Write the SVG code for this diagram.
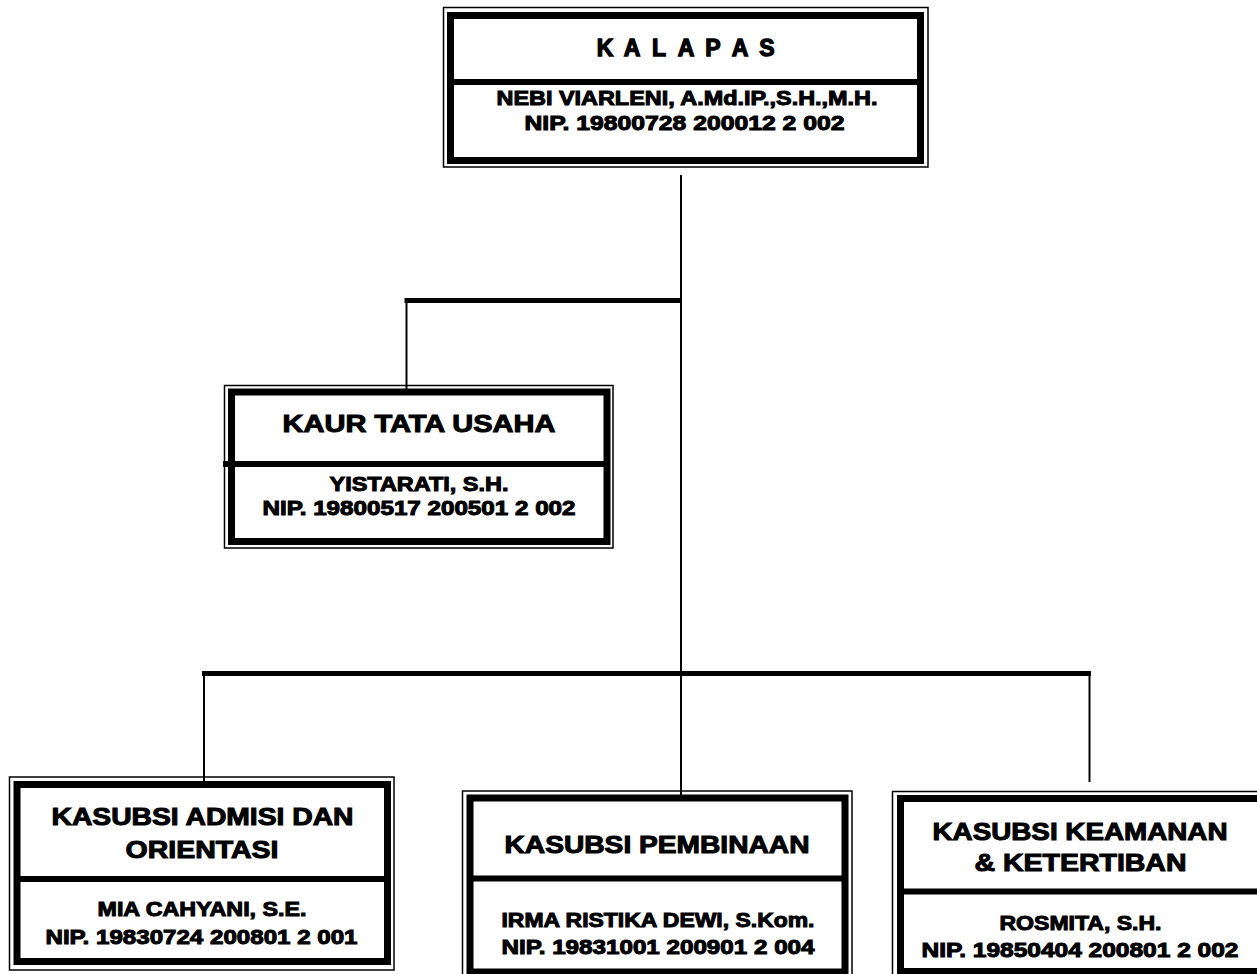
<svg xmlns="http://www.w3.org/2000/svg" width="1257" height="974" viewBox="0 0 1257 974">
  <style>
    .bg { fill: #ffffff; }
    .outer { fill: none; stroke: #000; stroke-width: 1.5; }
    .frame { fill: none; stroke: #000; stroke-width: 7; }
    .div { stroke: #000; stroke-width: 6; }
    .thin { stroke: #000; stroke-width: 2; fill: none; }
    .bar { stroke: #000; stroke-width: 5; fill: none; }
    text { font-family: "Liberation Sans", Arial, sans-serif; font-weight: bold; fill: #000; stroke: #000; stroke-width: 1; text-anchor: middle; }
    .title { font-size: 24px; }
    .name { font-size: 20px; }
    .spaced { font-size: 23px; stroke-width: 1.3; }
  </style>
  <rect class="bg" x="0" y="0" width="1257" height="974"/>

  <g id="connectors">
    <line class="thin" x1="681" y1="175" x2="681" y2="795"/>
    <line class="bar" x1="404.5" y1="300.5" x2="682" y2="300.5"/>
    <line class="thin" x1="406.5" y1="300" x2="406.5" y2="390"/>
    <line class="bar" x1="202" y1="673.5" x2="1091" y2="673.5"/>
    <line class="thin" x1="204" y1="673" x2="204" y2="783"/>
    <line class="thin" x1="1089.5" y1="673" x2="1089.5" y2="782"/>
  </g>

  <g id="kalapas">
    <rect class="outer" x="443.5" y="7.5" width="484.5" height="159.5"/>
    <rect class="frame" x="450.5" y="15.5" width="470" height="145"/>
    <line class="div" x1="450" y1="82" x2="921" y2="82"/>
    <text class="spaced" x="605 632 659 686 713 740 767" y="56">KALAPAS</text>
    <text class="name" x="687" y="105" textLength="381" lengthAdjust="spacingAndGlyphs">NEBI VIARLENI, A.Md.IP.,S.H.,M.H.</text>
    <text class="name" x="684.5" y="130" textLength="320" lengthAdjust="spacingAndGlyphs">NIP. 19800728 200012 2 002</text>
  </g>

  <g id="kaur-tata-usaha">
    <rect class="outer" x="224.5" y="385.5" width="388.5" height="162.5"/>
    <rect class="frame" x="231.5" y="392" width="375.5" height="149.5"/>
    <line class="div" x1="223" y1="464" x2="607" y2="464"/>
    <text class="title" x="419" y="432" textLength="273" lengthAdjust="spacingAndGlyphs">KAUR TATA USAHA</text>
    <text class="name" x="419" y="491" textLength="179" lengthAdjust="spacingAndGlyphs">YISTARATI, S.H.</text>
    <text class="name" x="419" y="515" textLength="313" lengthAdjust="spacingAndGlyphs">NIP. 19800517 200501 2 002</text>
  </g>

  <g id="kasubsi-admisi">
    <rect class="outer" x="9.5" y="777" width="384.5" height="193"/>
    <rect class="frame" x="17" y="784.5" width="370.5" height="177"/>
    <line class="div" x1="17" y1="879" x2="388" y2="879"/>
    <text class="title" x="202.5" y="825" textLength="302" lengthAdjust="spacingAndGlyphs">KASUBSI ADMISI DAN</text>
    <text class="title" x="202" y="858" textLength="153" lengthAdjust="spacingAndGlyphs">ORIENTASI</text>
    <text class="name" x="202" y="916" textLength="209" lengthAdjust="spacingAndGlyphs">MIA CAHYANI, S.E.</text>
    <text class="name" x="201.5" y="944" textLength="312" lengthAdjust="spacingAndGlyphs">NIP. 19830724 200801 2 001</text>
  </g>

  <g id="kasubsi-pembinaan">
    <rect class="outer" x="462.5" y="791" width="389.5" height="190"/>
    <rect class="frame" x="470" y="798" width="375" height="174"/>
    <line class="div" x1="470" y1="878.5" x2="845" y2="878.5"/>
    <text class="title" x="657" y="853" textLength="305" lengthAdjust="spacingAndGlyphs">KASUBSI PEMBINAAN</text>
    <text class="name" x="658" y="927" textLength="313" lengthAdjust="spacingAndGlyphs">IRMA RISTIKA DEWI, S.Kom.</text>
    <text class="name" x="658" y="954" textLength="313" lengthAdjust="spacingAndGlyphs">NIP. 19831001 200901 2 004</text>
  </g>

  <g id="kasubsi-keamanan">
    <rect class="outer" x="892.5" y="791.5" width="400" height="190"/>
    <rect class="frame" x="900.5" y="798.5" width="380" height="173"/>
    <line class="div" x1="900" y1="891.5" x2="1280" y2="891.5"/>
    <text class="title" x="1080" y="840" textLength="295" lengthAdjust="spacingAndGlyphs">KASUBSI KEAMANAN</text>
    <text class="title" x="1080.5" y="871" textLength="212" lengthAdjust="spacingAndGlyphs">&amp; KETERTIBAN</text>
    <text class="name" x="1080.5" y="930" textLength="162" lengthAdjust="spacingAndGlyphs">ROSMITA, S.H.</text>
    <text class="name" x="1080" y="957" textLength="317" lengthAdjust="spacingAndGlyphs">NIP. 19850404 200801 2 002</text>
  </g>
</svg>
